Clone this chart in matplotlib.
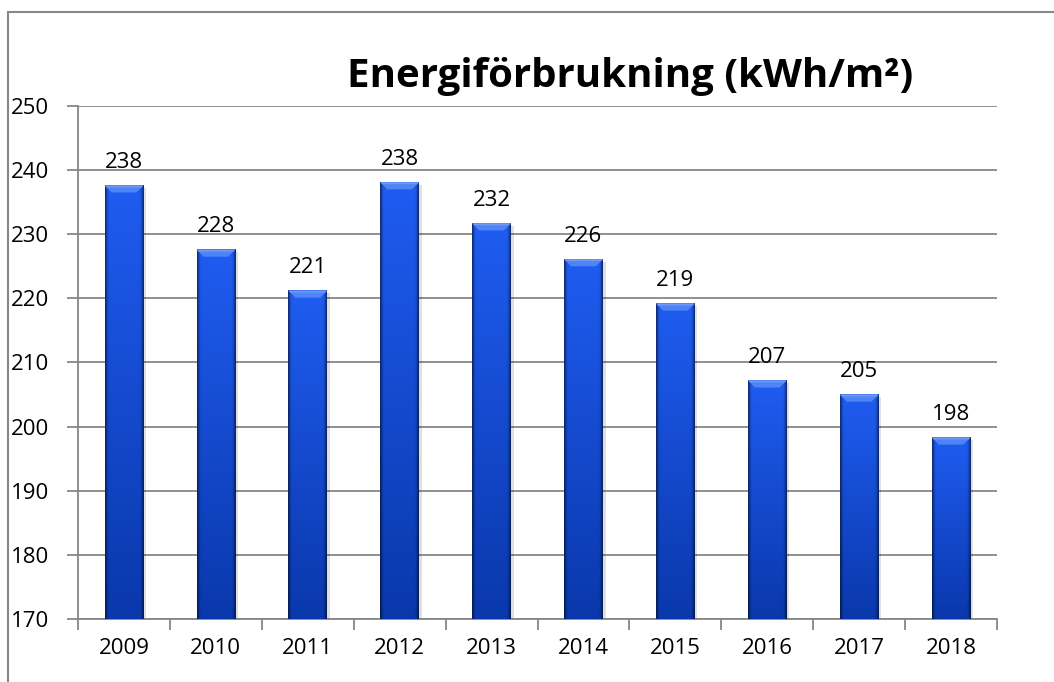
import numpy as np
import matplotlib.pyplot as plt
from matplotlib.colors import to_rgb
from matplotlib.patches import Polygon
from matplotlib.lines import Line2D

years = ['2009', '2010', '2011', '2012', '2013', '2014', '2015', '2016', '2017', '2018']
values = [237.6, 227.6, 221.2, 238.1, 231.7, 226.1, 219.2, 207.2, 205.0, 198.3]
labels = ['238', '228', '221', '238', '232', '226', '219', '207', '205', '198']

plt.rcParams['font.family'] = ['Open Sans', 'DejaVu Sans']

fig = plt.figure(figsize=(10.54, 6.82), dpi=100)
ax = fig.add_axes([0.074, 0.0924, 0.872, 0.7522])

ymin, ymax = 170, 250
width = 0.42
grey = '#878787'

# bar fill: bright top to darker bottom, darkened at the side edges
top_c = np.array(to_rgb('#1f5cf0'))
bot_c = np.array(to_rgb('#0a38ac'))
t = np.linspace(0, 1, 128)[:, None, None]
base = top_c * (1 - t) + bot_c * t
xs = np.linspace(-1, 1, 64)
edge = 1 - 0.55 * np.clip((np.abs(xs) - 0.8) / 0.2, 0, 1) ** 1.5
img = base * edge[None, :, None]

for i, v in enumerate(values):
    x0, x1 = i - width / 2, i + width / 2
    # soft shadow on the right
    ax.fill_between([x0 + 0.03, x1 + 0.03], ymin, v - 0.4, color='#000000',
                    alpha=0.12, lw=0, zorder=2)
    ax.imshow(img, extent=[x0, x1, ymin, v], aspect='auto', origin='upper',
              interpolation='bilinear', zorder=3)
    # bevel at the top
    h = 1.1
    inset = 0.075
    ax.add_patch(Polygon([[x0, v], [x1, v], [x1 - inset, v - h], [x0 + inset, v - h]],
                         closed=True, facecolor='#4f84f6', edgecolor='none', zorder=4))
    ax.add_patch(Polygon([[x0, v], [x1, v], [x1 - 0.02, v - 0.3], [x0 + 0.02, v - 0.3]],
                         closed=True, facecolor='#6d9af8', edgecolor='none', zorder=4))
    ax.annotate(labels[i], (i, v), xytext=(0, 9), textcoords='offset points',
                ha='center', va='bottom', fontsize=16, color='black')

ax.set_xlim(-0.5, len(years) - 0.5)
ax.set_ylim(ymin, ymax)
ax.set_yticks(np.arange(170, 251, 10))
ax.set_xticks(range(len(years)))
ax.set_xticklabels(years)
ax.set_xticks(np.arange(-0.5, len(years), 1), minor=True)
ax.tick_params(axis='x', which='major', length=0, pad=14, labelsize=16)
ax.tick_params(axis='x', which='minor', length=8, width=1.3, color=grey, direction='out')
ax.tick_params(axis='y', length=8, width=1.3, color=grey, pad=13, labelsize=16)

ax.grid(axis='y', color=grey, lw=1.3, zorder=0)
ax.set_axisbelow(True)
for s in ['top', 'right']:
    ax.spines[s].set_visible(False)
for s in ['left', 'bottom']:
    ax.spines[s].set_color(grey)
    ax.spines[s].set_linewidth(1.3)

fig.text(0.598, 0.888, 'Energiförbrukning (kWh/m²)', ha='center', va='center',
         fontsize=29, fontweight='bold')

# outer chart frame
fig.add_artist(Line2D([0.0076, 0.0076], [0, 0.9824], color=grey, lw=1.5, transform=fig.transFigure))
fig.add_artist(Line2D([0.0076, 1], [0.9824, 0.9824], color=grey, lw=1.5, transform=fig.transFigure))

fig.savefig('out.png', dpi=100)
